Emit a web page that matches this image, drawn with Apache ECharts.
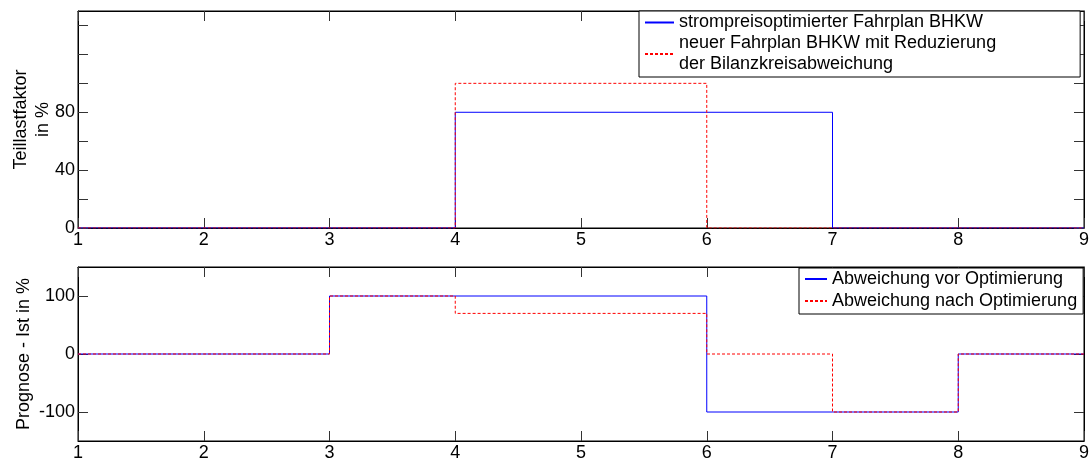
<!DOCTYPE html>
<html>
<head>
<meta charset="utf-8">
<script src="https://cdn.jsdelivr.net/npm/echarts@6/dist/echarts.min.js"></script>
<style>
html,body{margin:0;padding:0;background:#fff;}
#c{width:1092px;height:459px;}
</style>
</head>
<body>
<div id="c"></div>
<script>
// ---- data ----
const hours = [1, 2, 3, 4, 5, 6, 7, 8, 9];
const topTickValues = [0, 20, 40, 60, 80, 100, 120, 140];
const topLabelValues = [0, 40, 80];
const bottomTickValues = [-100, 0, 100];
const topNames = ['strompreisoptimierter Fahrplan BHKW', 'neuer Fahrplan BHKW mit Reduzierung\nder Bilanzkreisabweichung'];
const bottomNames = ['Abweichung vor Optimierung', 'Abweichung nach Optimierung'];
// value at hour i holds until hour i+1
const topBlue = [0, 0, 0, 80, 80, 80, 0, 0, 0];
const topRed = [0, 0, 0, 100, 100, 0, 0, 0, 0];
const bottomBlue = [0, 0, 100, 100, 100, -100, -100, 0, 0];
const bottomRed = [0, 0, 100, 70, 70, 0, -100, 0, 0];
const topYName = 'Teillastfaktor\nin %';
const bottomYName = 'Prognose - Ist in %';

const FONT = "'Liberation Sans', Arial, Helvetica, sans-serif";
const FS = 18;
const pairs = (xs, ys) => xs.map((x, i) => [x, ys[i]]);

function xAx(grid, pos, showLabel) {
  return {
    type: 'value', gridIndex: grid, position: pos, min: 1, max: 9, interval: 1,
    axisLine: {show: true, onZero: false, lineStyle: {color: '#000', width: 1}},
    axisTick: {show: true, inside: true, length: 10, lineStyle: {color: '#333'}},
    axisLabel: {show: showLabel, margin: 3, color: '#000', fontSize: FS, fontFamily: FONT},
    splitLine: {show: false}
  };
}
function yAx(grid, pos, min, max, ticks, labels, name, gap) {
  return {
    type: 'value', gridIndex: grid, position: pos, min: min, max: max,
    name: name, nameLocation: 'middle', nameGap: gap, nameRotate: 90, nameMoveOverlap: false,
    nameTextStyle: {color: '#000', fontSize: FS, fontFamily: FONT, lineHeight: 22},
    axisLine: {show: true, onZero: false, lineStyle: {color: '#000', width: 1}},
    axisTick: {show: true, inside: true, length: 10, customValues: ticks, lineStyle: {color: '#333'}},
    axisLabel: {show: !!labels, customValues: labels || ticks, margin: 3, color: '#000', fontSize: FS, fontFamily: FONT},
    splitLine: {show: false}
  };
}
function lineSeries(name, xi, yi, data, color, dashed) {
  return {
    name: name, type: 'line', xAxisIndex: xi, yAxisIndex: yi, step: 'end',
    data: data, symbol: 'none', showSymbol: false, animation: false, z: 5,
    lineStyle: {color: color, width: 1, opacity: 1, type: dashed ? [3, 2] : 'solid'},
    itemStyle: {color: color}
  };
}

const chart = echarts.init(document.getElementById('c'), null, {renderer: 'canvas'});
chart.setOption({
  animation: false,
  backgroundColor: '#fff',
  color: ['#0000ff', '#ff0000', '#0000ff', '#ff0000'],
  textStyle: {fontFamily: FONT},
  grid: [
    {left: 78, right: 8, top: 11, height: 217, show: true, borderColor: '#000', borderWidth: 1, containLabel: false, outerBoundsMode: 'none'},
    {left: 78, right: 8, top: 267, height: 174, show: true, borderColor: '#000', borderWidth: 1, containLabel: false, outerBoundsMode: 'none'}
  ],
  xAxis: [xAx(0, 'bottom', true), xAx(0, 'top', false), xAx(1, 'bottom', true), xAx(1, 'top', false)],
  yAxis: [
    yAx(0, 'left', 0, 150, topTickValues, topLabelValues, topYName, 24),
    yAx(0, 'right', 0, 150, topTickValues, null, '', 0),
    yAx(1, 'left', -150, 150, bottomTickValues, bottomTickValues, bottomYName, 43),
    yAx(1, 'right', -150, 150, bottomTickValues, null, '', 0)
  ],
  legend: [
    {
      data: topNames, orient: 'vertical', left: 639, top: 11, selectedMode: false,
      itemWidth: 29, itemHeight: 14, itemGap: 0,
      itemStyle: {opacity: 0},
      padding: [1, 84, 2, 5], borderColor: '#000', borderWidth: 1, backgroundColor: '#fff',
      textStyle: {color: '#000', fontSize: FS, fontFamily: FONT, lineHeight: 21}
    },
    {
      data: bottomNames, orient: 'vertical', left: 799, top: 268, selectedMode: false,
      itemWidth: 22, itemHeight: 14, itemGap: 0,
      itemStyle: {opacity: 0},
      padding: [0, 6, 2, 5], borderColor: '#000', borderWidth: 1, backgroundColor: '#fff',
      textStyle: {color: '#000', fontSize: FS, fontFamily: FONT, lineHeight: 22}
    }
  ],
  series: [
    lineSeries(topNames[0], 0, 0, pairs(hours, topBlue), '#0000ff', false),
    lineSeries(topNames[1], 0, 0, pairs(hours, topRed), '#ff0000', true),
    lineSeries(bottomNames[0], 2, 2, pairs(hours, bottomBlue), '#0000ff', false),
    lineSeries(bottomNames[1], 2, 2, pairs(hours, bottomRed), '#ff0000', true)
  ]
});
</script>
</body>
</html>
